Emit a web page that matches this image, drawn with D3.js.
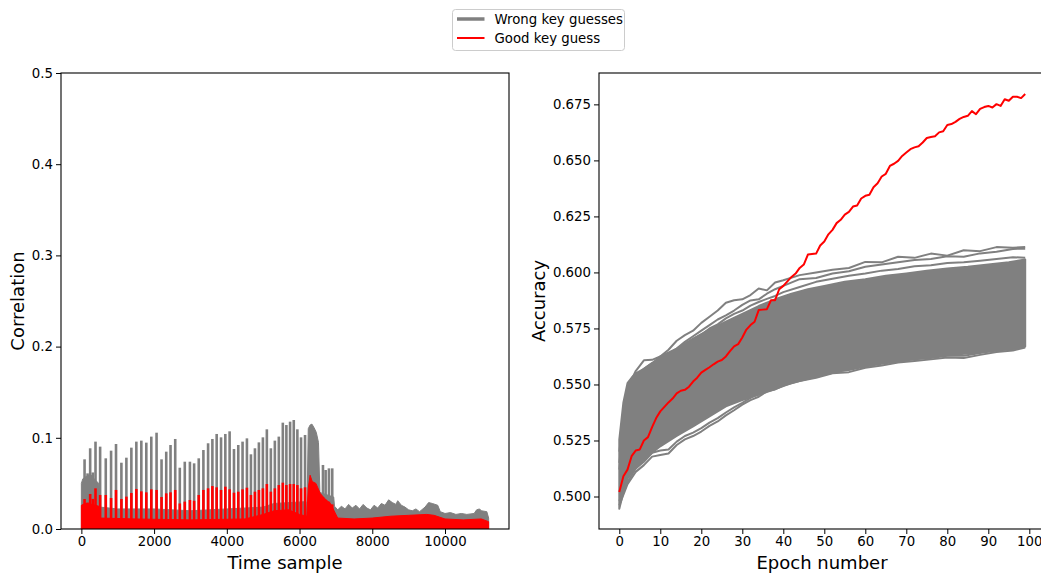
<!DOCTYPE html>
<html>
<head>
<meta charset="utf-8">
<script src="https://cdn.jsdelivr.net/npm/d3@7"></script>
<style>
  body { margin: 0; background: #fff; overflow: hidden; }
  svg { display: block; font-family: "DejaVu Sans", sans-serif; }
</style>
</head>
<body>
<svg id="chart" width="1041" height="573"></svg>
<script>
// ---- left panel: correlation over time samples ----
var spikeSamples = [88, 170, 242, 315, 389, 516, 671, 817, 953, 1101, 1238, 1375, 1512, 1649, 1786, 1923,
  2068, 2205, 2334, 2452, 2581, 2707, 2844, 2985, 3101, 3228, 3356, 3485, 3603, 3721, 3841, 3959,
  4077, 4197, 4315, 4433, 4553, 4663, 4773, 4882, 4992, 5101, 5211, 5321, 5430, 5540, 5638, 5740,
  5841, 5940, 6041, 6151, 6644, 6717, 6808, 6899];
var wrongPeaks = [0.0764, 0.061, 0.0885, 0.062, 0.0958, 0.0903, 0.0775, 0.0859, 0.0932, 0.0727, 0.0782, 0.0892,
  0.0958, 0.0969, 0.0947, 0.1013, 0.1056, 0.0764, 0.0848, 0.0921, 0.0987, 0.0672, 0.0738, 0.0738,
  0.072, 0.0775, 0.0866, 0.094, 0.0987, 0.1042, 0.1005, 0.1042, 0.1071, 0.0877, 0.0921, 0.0958,
  0.0994, 0.0819, 0.0885, 0.095, 0.1005, 0.1093, 0.0885, 0.0969, 0.1013, 0.1166, 0.114, 0.1177,
  0.1195, 0.1093, 0.1005, 0.1031, 0.0702, 0.0647, 0.0665, 0.0665];
var goodPeaks = [0.0329, 0.029, 0.0384, 0.033, 0.0446, 0.0373, 0.0373, 0.034, 0.0428, 0.0329, 0.0355, 0.0395,
  0.0439, 0.0413, 0.0402, 0.0435, 0.0428, 0.0351, 0.0391, 0.0402, 0.0428, 0.028, 0.030, 0.0318,
  0.031, 0.0373, 0.0428, 0.0446, 0.0471, 0.0457, 0.0428, 0.0464, 0.0435, 0.0398, 0.0409, 0.0435,
  0.0453, 0.0373, 0.0409, 0.0428, 0.0446, 0.0493, 0.0409, 0.0446, 0.0482, 0.0508, 0.0482, 0.0493,
  0.0493, 0.0482, 0.0446, 0.0457, 0.035, 0.032, 0.030, 0.027];
// level filled between the spikes: [sample, correlation]
var wrongFloor = [[0, 0.05], [40, 0.055], [150, 0.058], [250, 0.06], [350, 0.055], [480, 0.05], [520, 0.024],
  [1000, 0.022], [2000, 0.022], [3000, 0.02], [4000, 0.022], [5000, 0.024], [5300, 0.028], [6180, 0.03],
  [6200, 0.012], [6240, 0.11], [6290, 0.114], [6340, 0.115], [6400, 0.111], [6460, 0.106], [6520, 0.095],
  [6560, 0.04], [6940, 0.035], [6960, 0.025], [7050, 0.021], [7150, 0.025], [7250, 0.022], [7350, 0.027],
  [7450, 0.023], [7550, 0.026], [7650, 0.022], [7750, 0.027], [7850, 0.023], [7950, 0.021], [8050, 0.026],
  [8150, 0.023], [8250, 0.028], [8350, 0.026], [8450, 0.032], [8550, 0.029], [8650, 0.027], [8700, 0.031],
  [8800, 0.026], [8900, 0.024], [9000, 0.021], [9100, 0.02], [9200, 0.022], [9300, 0.019], [9450, 0.024],
  [9550, 0.029], [9650, 0.028], [9800, 0.026], [9870, 0.019], [10000, 0.017], [10150, 0.018], [10300, 0.016],
  [10450, 0.017], [10600, 0.016], [10800, 0.017], [10870, 0.021], [10950, 0.022], [11000, 0.02],
  [11150, 0.019], [11200, 0.012]];
var goodFloor = [[0, 0.026], [100, 0.028], [300, 0.027], [480, 0.025], [520, 0.012], [1500, 0.011], [3000, 0.010],
  [4500, 0.011], [5000, 0.016], [5300, 0.02], [5700, 0.021], [6000, 0.016], [6200, 0.014], [6240, 0.045],
  [6290, 0.059], [6350, 0.052], [6450, 0.05], [6570, 0.039], [6700, 0.033], [6850, 0.028], [6950, 0.02],
  [7050, 0.012], [7500, 0.011], [8000, 0.012], [8500, 0.014], [9000, 0.015], [9500, 0.016], [9700, 0.015],
  [10000, 0.011], [10500, 0.01], [11000, 0.011], [11200, 0.008]];
var timeTicks = [0, 2000, 4000, 6000, 8000, 10000];
var corrTicks = [0, 0.1, 0.2, 0.3, 0.4, 0.5];

// ---- right panel: accuracy per epoch ----
var goodAccuracy = [0.502, 0.509, 0.512, 0.518, 0.5205, 0.521, 0.525, 0.5265, 0.531, 0.535,
  0.538, 0.540, 0.542, 0.5437, 0.546, 0.5472, 0.5476, 0.549, 0.5513, 0.553,
  0.5553, 0.5565, 0.5577, 0.559, 0.5602, 0.5609, 0.5625, 0.5649, 0.567, 0.568,
  0.571, 0.5745, 0.5765, 0.578, 0.5832, 0.5834, 0.5836, 0.5876, 0.5876, 0.5925,
  0.594, 0.596, 0.598, 0.5995, 0.602, 0.6035, 0.608, 0.6082, 0.6084, 0.612,
  0.6138, 0.617, 0.619, 0.622, 0.6235, 0.6258, 0.627, 0.6294, 0.6299, 0.633,
  0.6342, 0.6347, 0.638, 0.6398, 0.6428, 0.644, 0.6475, 0.6485, 0.6498, 0.652,
  0.6535, 0.655, 0.6558, 0.6563, 0.658, 0.66, 0.6604, 0.6608, 0.6625, 0.663,
  0.6658, 0.6662, 0.6672, 0.6685, 0.6694, 0.6699, 0.672, 0.6706, 0.673, 0.6738,
  0.6743, 0.6736, 0.6751, 0.6743, 0.6773, 0.6766, 0.6784, 0.6784, 0.6778, 0.6796];
// the dense bundle of wrong key curves
var bandEpochs = [0, 1, 2, 3, 4, 6, 8, 10, 14, 18, 22, 26, 30, 34, 38, 42, 46, 50, 55, 60, 65, 70, 75, 80, 85, 90, 95, 99];
var bandUpper = [0.5254, 0.542, 0.5506, 0.553, 0.555, 0.557, 0.5595, 0.5625, 0.566, 0.5705, 0.5745, 0.578, 0.5815, 0.585,
  0.588, 0.5905, 0.5925, 0.594, 0.5958, 0.597, 0.5985, 0.5995, 0.6007, 0.6018, 0.6025, 0.6035, 0.6045, 0.6058];
var bandLower = [0.4945, 0.502, 0.508, 0.5105, 0.5125, 0.5165, 0.5195, 0.5224, 0.527, 0.5313, 0.5358, 0.5402, 0.543, 0.5454,
  0.548, 0.5506, 0.5525, 0.5543, 0.5565, 0.5583, 0.5598, 0.561, 0.562, 0.563, 0.5638, 0.5648, 0.5658, 0.5669];
// wrong key curves that stand apart from the bundle
var strayEpochs = [0, 2, 4, 6, 8, 10, 12, 14, 16, 18, 20, 22, 24, 26, 28, 30, 32, 34, 36, 38, 40, 44, 48, 52, 56, 60, 64, 68, 72, 76, 80, 84, 88, 92, 96, 99];
var wrongTopA = [0.52, 0.548, 0.556, 0.5608, 0.561, 0.5625, 0.5655, 0.5695, 0.572, 0.574, 0.5775, 0.5802, 0.583, 0.5865, 0.5876, 0.588, 0.5899, 0.5928,
  0.592, 0.5955, 0.5965, 0.5988, 0.6, 0.6012, 0.602, 0.6047, 0.6045, 0.607, 0.6065, 0.6084, 0.6075, 0.6099, 0.6095, 0.6113, 0.611, 0.6113];
var wrongTopB = [0.515, 0.545, 0.553, 0.557, 0.5595, 0.5615, 0.5635, 0.566, 0.569, 0.5715, 0.574, 0.5765, 0.579, 0.5808, 0.583, 0.5855, 0.5875, 0.588,
  0.5905, 0.5925, 0.594, 0.597, 0.5975, 0.5995, 0.6005, 0.6025, 0.6035, 0.6045, 0.6055, 0.606, 0.6072, 0.607, 0.6085, 0.6092, 0.6105, 0.6106];
var wrongTopC = [0.512, 0.543, 0.551, 0.5555, 0.558, 0.5605, 0.563, 0.5648, 0.5672, 0.5702, 0.5722, 0.575, 0.5768, 0.5795, 0.5815, 0.583, 0.5852, 0.5868,
  0.5882, 0.5895, 0.5912, 0.5935, 0.5958, 0.5972, 0.5985, 0.5995, 0.6008, 0.6015, 0.6028, 0.6032, 0.6042, 0.6045, 0.6052, 0.606, 0.6068, 0.6065];
var wrongLowA = [0.496, 0.5055, 0.511, 0.514, 0.5178, 0.5185, 0.5192, 0.523, 0.5255, 0.527, 0.529, 0.5315, 0.5335, 0.5362, 0.5385, 0.541, 0.543, 0.5445,
  0.547, 0.5478, 0.5495, 0.5515, 0.553, 0.555, 0.5555, 0.5575, 0.5585, 0.5598, 0.5605, 0.5612, 0.562, 0.5618, 0.5632, 0.5645, 0.5652, 0.5665];
var wrongLowB = [0.498, 0.5065, 0.5125, 0.5155, 0.5195, 0.5205, 0.521, 0.5245, 0.527, 0.5285, 0.5305, 0.533, 0.535, 0.5375, 0.5398, 0.5418, 0.544, 0.546,
  0.5478, 0.5488, 0.5502, 0.5522, 0.554, 0.5556, 0.5565, 0.558, 0.5592, 0.5603, 0.5612, 0.5618, 0.5628, 0.5628, 0.564, 0.5652, 0.5658, 0.567];
var epochTicks = [0, 10, 20, 30, 40, 50, 60, 70, 80, 90, 100];
var accTicks = [0.5, 0.525, 0.55, 0.575, 0.6, 0.625, 0.65, 0.675];

var legendItems = [
  { label: "Wrong key guesses", color: "#808080", width: 3.5 },
  { label: "Good key guess", color: "#ff0000", width: 2 }
];

var GREY = "#808080", RED = "#ff0000";
var plotTop = 73, plotBottom = 529;
var svg = d3.select("#chart");

var drawAxes = function drawAxes(g, x, y, xTicks, yTicks, yFormat, xLabel, yLabel, labelX, labelMid) {
  var x0 = x.range()[0], x1 = x.range()[1];
  g.append("g")
    .attr("transform", "translate(0," + plotBottom + ")")
    .call(d3.axisBottom(x).tickValues(xTicks).tickFormat(d3.format("d")).tickSize(5).tickPadding(3).tickSizeOuter(0))
    .call(function(a) { a.select(".domain").remove(); });
  g.append("g")
    .attr("transform", "translate(" + x0 + ",0)")
    .call(d3.axisLeft(y).tickValues(yTicks).tickFormat(d3.format(yFormat)).tickSize(5).tickPadding(3).tickSizeOuter(0))
    .call(function(a) { a.select(".domain").remove(); });
  g.selectAll(".tick text").style("font-size", "13.3px").style("font-family", "DejaVu Sans").attr("fill", "#000");
  g.selectAll(".tick line").attr("stroke", "#000").attr("stroke-width", 1);
  g.append("rect")
    .attr("x", x0).attr("y", plotTop)
    .attr("width", x1 - x0).attr("height", plotBottom - plotTop)
    .attr("fill", "none").attr("stroke", "#000").attr("stroke-width", 1.1);
  g.append("text")
    .attr("x", labelMid).attr("y", 569)
    .attr("text-anchor", "middle").style("font-size", "18px")
    .text(xLabel);
  g.append("text")
    .attr("transform", "translate(" + labelX + "," + (plotTop + plotBottom) / 2 + ") rotate(-90)")
    .attr("text-anchor", "middle").style("font-size", "18px")
    .text(yLabel);
};

var addClip = function addClip(id, x0, x1) {
  svg.append("clipPath").attr("id", id)
    .append("rect").attr("x", x0).attr("y", plotTop).attr("width", x1 - x0).attr("height", plotBottom - plotTop);
};

// ---- left panel ----
var nTime = 11200;
var xT = d3.scaleLinear().domain([-0.05 * nTime, 1.05 * nTime]).range([61, 509]);
var yC = d3.scaleLinear().domain([0, 0.5]).range([plotBottom, plotTop]);
addClip("clipL", 61, 509);
var left = svg.append("g");
var plotL = left.append("g").attr("clip-path", "url(#clipL)");

var floorArea = d3.area()
  .x(function(d) { return xT(d[0]); })
  .y0(yC(0))
  .y1(function(d) { return yC(d[1]); });

var drawTrace = function drawTrace(floor, peaks, color) {
  plotL.append("path")
    .datum(floor)
    .attr("d", floorArea)
    .attr("fill", color)
    .attr("stroke", color)
    .attr("stroke-width", 1);
  plotL.append("g").selectAll("rect")
    .data(peaks)
    .enter()
    .append("rect")
    .attr("x", function(d, i) { return xT(spikeSamples[i]) - 1.3; })
    .attr("width", 2.6)
    .attr("y", function(d) { return yC(d); })
    .attr("height", function(d) { return yC(0) - yC(d); })
    .attr("fill", color);
};
drawTrace(wrongFloor, wrongPeaks, GREY);
drawTrace(goodFloor, goodPeaks, RED);

drawAxes(left, xT, yC, timeTicks, corrTicks, ".1f", "Time sample", "Correlation", 24, 285);

// ---- right panel ----
var nEpoch = goodAccuracy.length;
var xE = d3.scaleLinear().domain([-0.05 * (nEpoch - 1), 1.05 * (nEpoch - 1)]).range([599, 1045.5]);
var yA = d3.scaleLinear().domain([0.4855, 0.689]).range([plotBottom, plotTop]);
addClip("clipR", 599, 1045.5);
var right = svg.append("g");
var plotR = right.append("g").attr("clip-path", "url(#clipR)");

var band = d3.area()
  .x(function(d, i) { return xE(bandEpochs[i]); })
  .y0(function(d, i) { return yA(bandLower[i]); })
  .y1(function(d, i) { return yA(bandUpper[i]); });
plotR.append("path")
  .datum(bandEpochs)
  .attr("d", band)
  .attr("fill", GREY)
  .attr("stroke", GREY)
  .attr("stroke-width", 2)
  .attr("stroke-linejoin", "round");

var strayLine = d3.line()
  .x(function(d, i) { return xE(strayEpochs[i]); })
  .y(function(d) { return yA(d); });
plotR.append("g").selectAll("path")
  .data([wrongTopA, wrongTopB, wrongTopC, wrongLowA, wrongLowB])
  .enter()
  .append("path")
  .attr("d", strayLine)
  .attr("fill", "none")
  .attr("stroke", GREY)
  .attr("stroke-width", 2)
  .attr("stroke-linejoin", "round");

plotR.append("path")
  .datum(goodAccuracy)
  .attr("d", d3.line()
    .x(function(d, i) { return xE(i); })
    .y(function(d) { return yA(d); }))
  .attr("fill", "none")
  .attr("stroke", RED)
  .attr("stroke-width", 2)
  .attr("stroke-linejoin", "round");

drawAxes(right, xE, yA, epochTicks, accTicks, ".3f", "Epoch number", "Accuracy", 545, 822);

// ---- legend ----
var legend = svg.append("g").attr("transform", "translate(452.5,9.5)");
legend.append("rect")
  .attr("width", 172).attr("height", 41).attr("rx", 3)
  .attr("fill", "#fff").attr("stroke", "#cccccc").attr("stroke-width", 1);
var item = legend.selectAll(".item")
  .data(legendItems)
  .enter()
  .append("g")
  .attr("transform", function(d, i) { return "translate(0," + (9.5 + i * 19) + ")"; });
item.append("line")
  .attr("x1", 4.5).attr("x2", 32)
  .attr("stroke", function(d) { return d.color; })
  .attr("stroke-width", function(d) { return d.width; });
item.append("text")
  .attr("x", 42).attr("y", 4.6)
  .style("font-size", "13.3px")
  .text(function(d) { return d.label; });
</script>
</body>
</html>
